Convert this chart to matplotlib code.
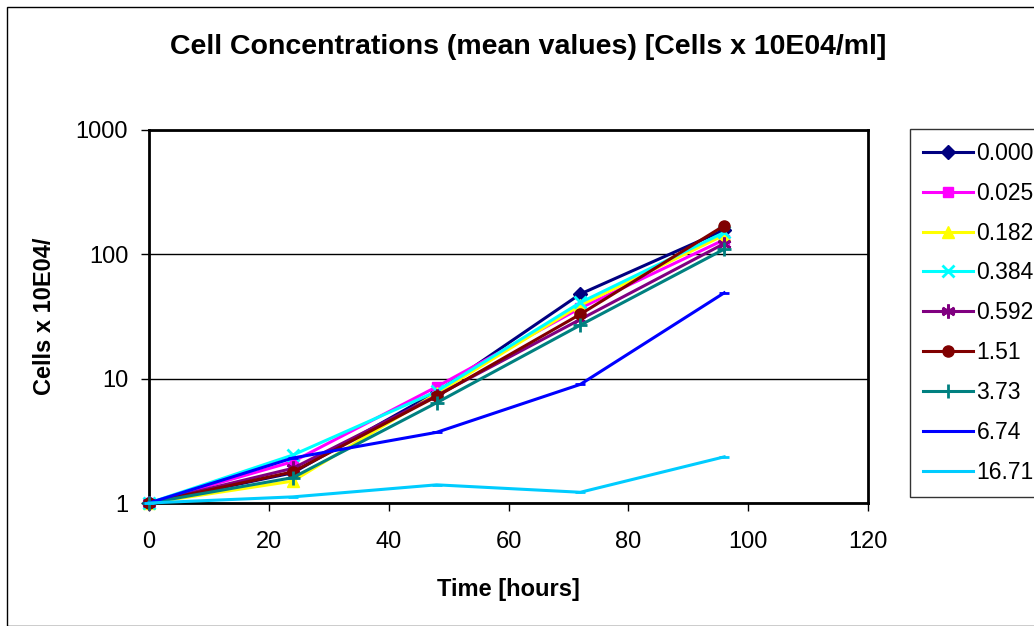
import matplotlib
matplotlib.use("Agg")
import matplotlib.pyplot as plt
from matplotlib.ticker import FixedLocator, NullLocator, FixedFormatter

plt.rcParams['font.family'] = ['Liberation Sans', 'DejaVu Sans']

hours = [0, 24, 48, 72, 96]
labels = ["0.000", "0.025", "0.182", "0.384", "0.592", "1.51", "3.73", "6.74", "16.71"]
s_0000 = [1, 1.75, 7.8, 48, 157]
s_0025 = [1, 2.15, 8.6, 37, 131]
s_0182 = [1, 1.5, 7.6, 39, 143]
s_0384 = [1, 2.43, 7.9, 41, 150]
s_0592 = [1, 1.9, 7.3, 30, 122]
s_151 = [1, 1.78, 7.2, 33, 170]
s_373 = [1, 1.6, 6.4, 27, 110]
s_674 = [1, 2.3, 3.7, 9.0, 49]
s_1671 = [1, 1.12, 1.4, 1.22, 2.35]
series = [s_0000, s_0025, s_0182, s_0384, s_0592, s_151, s_373, s_674, s_1671]

colors = ["#000080", "#FF00FF", "#FFFF00", "#00FFFF", "#800080", "#800000", "#008080", "#0000FF", "#00CCFF"]
markers = ["D", "s", "^", "x", (6, 2, 0), "o", "+", "_", "_"]
msizes = [7, 7, 8, 8, 10, 8, 10, 7, 7]

fig = plt.figure(figsize=(10.34, 6.26), dpi=100)
fig.patch.set_facecolor("white")
# outer frame
fig.add_artist(plt.Rectangle((7/1034, 0.0), 1.2, (626-7)/626, transform=fig.transFigure,
                             fill=False, edgecolor="black", linewidth=1.0))

ax = fig.add_axes([149/1034, 1-503/626, (868-149)/1034, (503-130)/626])
for lab, ys, c, m, ms in zip(labels, series, colors, markers, msizes):
    ax.plot(hours, ys, color=c, marker=m, markersize=ms, linewidth=2.2,
            markeredgewidth=2 if m in ("x", "+", (6, 2, 0), "_") else 1,
            markeredgecolor=c, label=lab, clip_on=False, zorder=3)

ax.set_yscale("log")
ax.set_ylim(1, 1000)
ax.set_xlim(0, 120)
ax.yaxis.set_major_locator(FixedLocator([1, 10, 100, 1000]))
ax.yaxis.set_major_formatter(FixedFormatter(["1", "10", "100", "1000"]))
ax.yaxis.set_minor_locator(NullLocator())
ax.set_xticks([0, 20, 40, 60, 80, 100, 120])
ax.grid(True, axis="y", which="major", color="black", linewidth=1.0)
for sp in ax.spines.values():
    sp.set_linewidth(2.0)
    sp.set_color("black")
ax.tick_params(axis="both", direction="out", length=6, width=1, labelsize=17)
ax.tick_params(axis="x", pad=14)
ax.tick_params(axis="y", pad=9)

ax.set_xlabel("Time [hours]", fontsize=17, fontweight="bold", labelpad=18)
ax.set_ylabel("Cells x 10E04/", fontsize=17, fontweight="bold", labelpad=14)

fig.text(528/1034, 1-47/626, "Cell Concentrations (mean values) [Cells x 10E04/ml]",
         ha="center", va="center", fontsize=20.5, fontweight="bold")

leg = fig.legend(loc="upper left", bbox_to_anchor=(910/1034, 1-129/626), fontsize=16.5,
                 frameon=True, fancybox=False, edgecolor="black", handlelength=2.2,
                 labelspacing=0.74, borderpad=0.55, handletextpad=0.15, borderaxespad=0)
leg.get_frame().set_linewidth(1.0)

fig.savefig("out.png", dpi=100)
